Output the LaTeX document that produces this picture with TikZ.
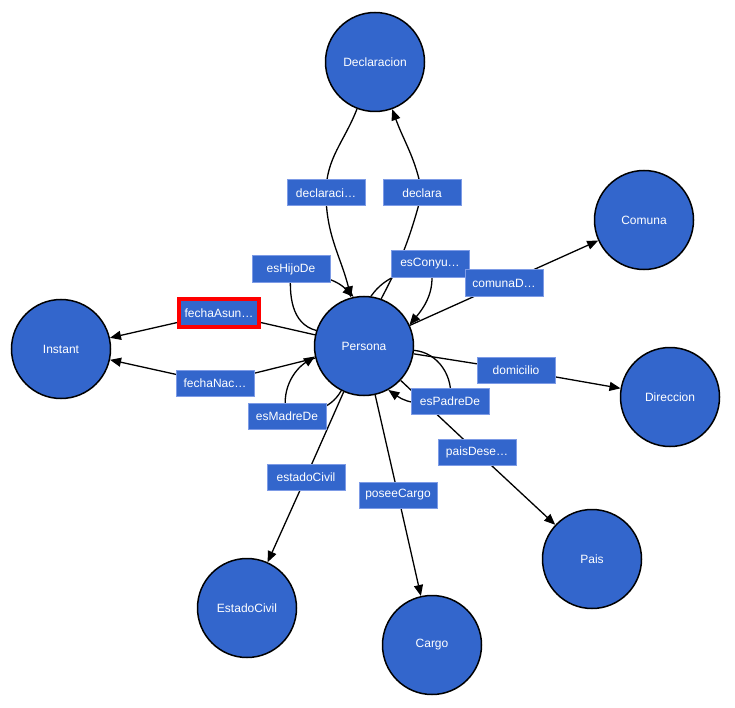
\documentclass[tikz,border=0pt]{standalone}
\usepackage{fontspec}
\setmainfont{Liberation Sans}
\usetikzlibrary{arrows.meta,backgrounds}
\definecolor{nodeblue}{RGB}{51,102,204}
\definecolor{lblborder}{RGB}{125,155,230}
\begin{document}
\begin{tikzpicture}[x=1pt,y=1pt,
  cls/.style={circle,draw=black,line width=1.5pt,fill=nodeblue,minimum size=99pt,inner sep=0pt,text=white,font=\fontsize{12}{14}\selectfont},
  lbl/.style={rectangle,draw=lblborder,line width=1pt,fill=nodeblue,minimum width=78pt,minimum height=26pt,inner sep=0pt,text=white,font=\fontsize{12}{14}\selectfont},
  sel/.style={lbl,draw=red,line width=3.2pt,minimum width=80pt,minimum height=28pt},
  edgearrow/.style={draw=black,line width=1.3pt,-{Triangle[length=11pt,width=9pt]}},
  edgeplain/.style={draw=black,line width=1.3pt}]
\useasboundingbox (0,0) rectangle (735,-708);
% classes
\node[cls] (D) at (375,-62) {Declaracion};
\node[cls] (Co) at (644,-220) {Comuna};
\node[cls] (I) at (61,-349) {Instant};
\node[cls] (P) at (364,-346) {Persona};
\node[cls] (Dir) at (670,-397) {Direccion};
\node[cls] (Pa) at (592,-559) {Pais};
\node[cls] (EC) at (247,-608) {EstadoCivil};
\node[cls] (Ca) at (432,-645) {Cargo};
% labels
\node[lbl] (l1) at (326,-193) {declaraci…};
\node[lbl] (l2) at (422,-193) {declara};
\node[lbl] (lh) at (291,-269) {esHijoDe};
\node[lbl] (lc) at (430,-264) {esConyu…};
\node[lbl] (lcd) at (504,-283) {comunaD…};
\node[sel] (lfa) at (219,-313) {fechaAsun…};
\node[lbl] (lfn) at (215,-383) {fechaNac…};
\node[lbl] (ld) at (516,-370) {domicilio};
\node[lbl] (lp) at (450,-401) {esPadreDe};
\node[lbl] (lm) at (287,-416) {esMadreDe};
\node[lbl] (le) at (306,-477) {estadoCivil};
\node[lbl] (lpc) at (398,-495) {poseeCargo};
\node[lbl] (lpd) at (477,-452) {paisDese…};
\begin{scope}[on background layer]
\fill[white] (0,0) rectangle (735,-708);
\draw[edgearrow] (D) to[out=249,in=90] (l1.center) to[out=-90,in=104] (P.105);
\draw[edgearrow] (P.70) to[out=62,in=-105] (l2.center) to[out=100,in=-70] (D);
\draw[edgearrow] (P.162) to[out=165,in=-95] (lh.center) to[out=-15,in=135] (P.102);
\draw[edgearrow] (P.82) to[out=55,in=200] (lc.center) to[out=-75,in=50] (P.25);
\draw[edgearrow] (P) -- (lcd.center) -- (Co);
\draw[edgearrow] (P) -- (lfa.center) -- (I);
\draw[edgearrow] (P) -- (lfn.center) -- (I);
\draw[edgearrow] (P) -- (ld.center) -- (Dir);
\draw[edgearrow] (P.-5) to[out=-5,in=80] (lp.center) to[out=190,in=-35] (P.-61);
\draw[edgearrow] (P.243) to[out=240,in=10] (lm.center) to[out=105,in=213] (P.192);
\draw[edgearrow] (P) -- (le.center) -- (EC);
\draw[edgearrow] (P) -- (lpc.center) -- (Ca);
\draw[edgearrow] (P) -- (lpd.center) -- (Pa);
\end{scope}
\end{tikzpicture}
\end{document}
